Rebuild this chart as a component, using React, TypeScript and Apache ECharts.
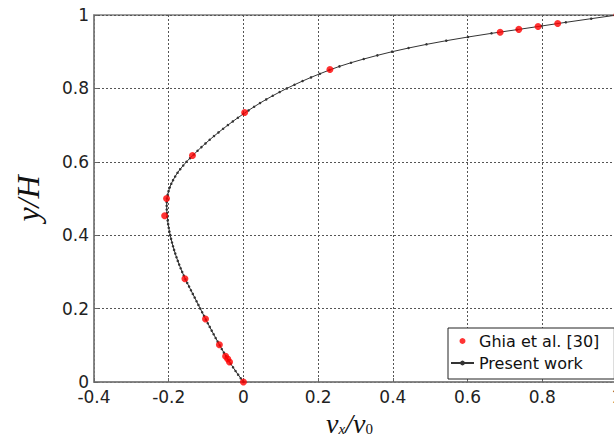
import React, { useEffect, useRef } from "react";
import * as echarts from "echarts";

// Ghia et al. [30] reference data (u-velocity along vertical centreline)
const ghiaY = [1.0, 0.9766, 0.9688, 0.9609, 0.9531, 0.8516, 0.7344, 0.6172, 0.5, 0.4531, 0.2813, 0.1719, 0.1016, 0.0703, 0.0625, 0.0547, 0.0];
const ghiaU = [1.0, 0.84123, 0.78871, 0.73722, 0.68717, 0.23151, 0.00332, -0.13641, -0.20581, -0.2109, -0.15662, -0.1015, -0.06434, -0.04775, -0.04192, -0.03717, 0.0];

// Present work profile
const workY = [
  0.0, 0.01, 0.02, 0.03, 0.04, 0.05, 0.06, 0.07, 0.08, 0.09,
  0.1, 0.11, 0.12, 0.13, 0.14, 0.15, 0.16, 0.17, 0.18, 0.19,
  0.2, 0.21, 0.22, 0.23, 0.24, 0.25, 0.26, 0.27, 0.28, 0.29,
  0.3, 0.31, 0.32, 0.33, 0.34, 0.35, 0.36, 0.37, 0.38, 0.39,
  0.4, 0.41, 0.42, 0.43, 0.44, 0.45, 0.46, 0.47, 0.48, 0.49,
  0.5, 0.51, 0.52, 0.53, 0.54, 0.55, 0.56, 0.57, 0.58, 0.59,
  0.6, 0.61, 0.62, 0.63, 0.64, 0.65, 0.66, 0.67, 0.68, 0.69,
  0.7, 0.71, 0.72, 0.73, 0.74, 0.75, 0.76, 0.77, 0.78, 0.79,
  0.8, 0.81, 0.82, 0.83, 0.84, 0.85, 0.86, 0.87, 0.88, 0.89,
  0.9, 0.91, 0.92, 0.93, 0.94, 0.95, 0.96, 0.97, 0.98, 0.99,
  1.0,
];
const workU = [
  0.0, -0.0072, -0.0142, -0.0211, -0.0278, -0.0343, -0.0405, -0.0465, -0.0523, -0.058,
  -0.0635, -0.069, -0.0744, -0.0797, -0.085, -0.0902, -0.0954, -0.1005, -0.1055, -0.1105,
  -0.1155, -0.1205, -0.1255, -0.1305, -0.1355, -0.1405, -0.1455, -0.1505, -0.1553, -0.1597,
  -0.164, -0.1681, -0.172, -0.1757, -0.1792, -0.1825, -0.1856, -0.1885, -0.1912, -0.1937,
  -0.196, -0.1981, -0.1999, -0.2015, -0.2029, -0.204, -0.2048, -0.2053, -0.2055, -0.2053,
  -0.2047, -0.2029, -0.2004, -0.1972, -0.1932, -0.1884, -0.1828, -0.1764, -0.1692, -0.1612,
  -0.1524, -0.1429, -0.1328, -0.1228, -0.1124, -0.1016, -0.0904, -0.0788, -0.0668, -0.0544,
  -0.0416, -0.0284, -0.0148, -0.0008, 0.0136, 0.0286, 0.0444, 0.061, 0.0785, 0.0969,
  0.1163, 0.1367, 0.1582, 0.1809, 0.2049, 0.2302, 0.257, 0.288, 0.322, 0.3585,
  0.398, 0.442, 0.49, 0.543, 0.601, 0.664, 0.732, 0.798, 0.863, 0.931,
  1.0,
];

const xTicks = { min: -0.4, max: 1, step: 0.2 };
const yTicks = { min: 0, max: 1, step: 0.2 };
const seriesNames = ["Ghia et al. [30]", "Present work"];

export default function App() {
  const ref = useRef<HTMLDivElement>(null);
  useEffect(() => {
    if (!ref.current) return;
    const chart = echarts.init(ref.current, null, { renderer: "svg" });
    const tickFont = { fontFamily: "DejaVu Sans", fontSize: 17, color: "#222" };
    const splitLine = { show: true, lineStyle: { type: [2, 2] as any, color: "#555", width: 1 } };
    chart.setOption({
      animation: false,
      backgroundColor: "#fff",
      grid: {
        left: 94, top: 15, right: -3, bottom: 58,
        outerBoundsMode: "none",
        containLabel: false,
        show: true, borderColor: "#7f7f7f", borderWidth: 1.5, backgroundColor: "transparent",
      },
      legend: {
        orient: "vertical",
        left: 448, top: 328,
        padding: [5, 15, 8, 2],
        itemWidth: 23, itemHeight: 6, itemGap: 6,
        borderColor: "#222", borderWidth: 1, backgroundColor: "#fff",
        textStyle: { fontFamily: "DejaVu Sans", fontSize: 16, color: "#111" },
        data: seriesNames,
      },
      xAxis: {
        type: "value",
        min: xTicks.min, max: xTicks.max, interval: xTicks.step,
        axisLine: { show: true, onZero: false, lineStyle: { color: "#7f7f7f", width: 1.5 } },
        axisTick: { show: true, inside: true, length: 4, lineStyle: { color: "#666" } },
        axisLabel: { ...tickFont, margin: 6 },
        splitLine,
        name: "{v|v}{s|x}{v|/v}{t|0}",
        nameLocation: "middle",
        nameGap: 23,
        nameTextStyle: {
          padding: [0, 12, 0, 0],
          rich: {
            v: { fontFamily: "Liberation Serif", fontStyle: "italic", fontSize: 28, color: "#111", verticalAlign: "top", lineHeight: 27 },
            s: { fontFamily: "Liberation Serif", fontStyle: "italic", fontSize: 15, color: "#111", verticalAlign: "bottom", lineHeight: 15 },
            t: { fontFamily: "Liberation Serif", fontSize: 15, color: "#111", verticalAlign: "bottom", lineHeight: 15 },
          },
        },
      },
      yAxis: {
        type: "value",
        min: yTicks.min, max: yTicks.max, interval: yTicks.step,
        axisLine: { show: true, onZero: false, lineStyle: { color: "#7f7f7f", width: 1.5 } },
        axisTick: { show: true, inside: true, length: 4, lineStyle: { color: "#666" } },
        axisLabel: { ...tickFont, margin: 5 },
        splitLine,
        name: "y/H",
        nameLocation: "middle",
        nameGap: 50,
        nameTextStyle: { fontFamily: "Liberation Serif", fontStyle: "italic", fontSize: 32, color: "#111" },
      },
      series: [
        {
          name: seriesNames[0],
          type: "scatter",
          data: ghiaU.map((u, i) => [u, ghiaY[i]]),
          symbol: "circle",
          symbolSize: 7,
          itemStyle: { color: "#ff0000" },
          z: 4,
        },
        {
          name: seriesNames[1],
          type: "line",
          data: workU.map((u, i) => [u, workY[i]]),
          symbol: "circle",
          symbolSize: 2.5,
          showAllSymbol: true,
          lineStyle: { color: "#333", width: 1 },
          itemStyle: { color: "#333" },
          z: 3,
        },
      ],
    });
    return () => chart.dispose();
  }, []);
  return <div ref={ref} style={{ position: "absolute", left: 0, top: 0, width: 614, height: 440 }} />;
}
